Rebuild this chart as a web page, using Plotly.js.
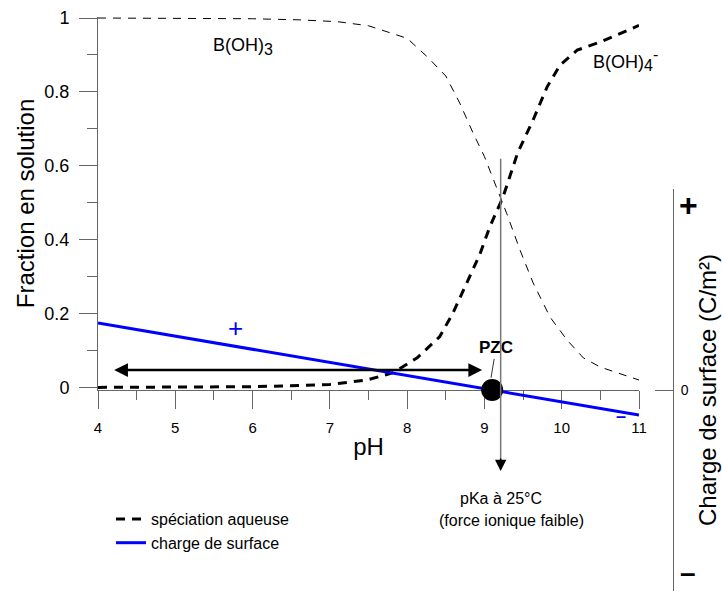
<!DOCTYPE html>
<html><head><meta charset="utf-8">
<script src="https://cdn.plot.ly/plotly-3.0.1.min.js"></script>
<style>html,body{margin:0;padding:0;background:#fff}#chart{width:722px;height:591px}</style>
</head><body><div id="chart"></div>
<script>
// B(OH)3 fraction (thin dashed)
const phAcid = [4, 5, 6, 6.6, 7.1, 7.5, 8.0, 8.26, 8.5, 8.68, 8.85, 9.0, 9.29, 9.46, 9.63, 9.85, 10.07, 10.28, 10.5, 11];
const fracAcid = [1.0, 1.0, 0.998, 0.995, 0.99, 0.979, 0.945, 0.895, 0.843, 0.77, 0.69, 0.625, 0.47, 0.372, 0.283, 0.19, 0.128, 0.08, 0.055, 0.02];
// B(OH)4- fraction (thick dashed)
const phBase = [4, 5, 6, 6.6, 7.0, 7.48, 7.82, 8.13, 8.42, 8.59, 8.77, 8.94, 9.07, 9.24, 9.37, 9.43, 9.63, 9.81, 9.98, 10.2, 10.5, 11];
const fracBase = [0.0, 0.0, 0.002, 0.005, 0.008, 0.02, 0.04, 0.08, 0.137, 0.2, 0.28, 0.36, 0.435, 0.515, 0.597, 0.635, 0.724, 0.813, 0.873, 0.913, 0.935, 0.98];
// surface charge (arbitrary units, right axis)
const phCharge = [4, 9.1, 11];
const charge = [0.333, 0, -0.124];
// point of zero charge
const pzcPH = [9.1];
const pzcCharge = [0];
// pKa
const pKa = 9.21;
// double arrow (range of positive charge)
const arrowFrom = 4.19, arrowTo = 8.97, arrowLevel = 0.047;

const FONT = 'Liberation Sans, Arial, sans-serif';
const AX = '#666666';

const traces = [
  {x: phAcid, y: fracAcid, mode: 'lines', line: {color: '#000', width: 1, dash: '8px,7px'},
   showlegend: false, name: 'B(OH)3', hoverinfo: 'skip'},
  {x: phBase, y: fracBase, mode: 'lines', line: {color: '#000', width: 3, dash: '9px,7px'},
   name: 'spéciation aqueuse'},
  {x: phCharge, y: charge, yaxis: 'y2', mode: 'lines', line: {color: '#0000ff', width: 3},
   name: 'charge de surface'},
  {x: pzcPH, y: pzcCharge, yaxis: 'y2', mode: 'markers', marker: {color: '#000', size: 22},
   showlegend: false, name: 'PZC', cliponaxis: false}
];

const W = 624, H = 574; // paper size in px (l=98, r=0, t=17, b=0)
const px = p => (p - 98) / W;
const py = p => (591 - p) / H;

const layout = {
  width: 722, height: 591,
  margin: {l: 98, r: 0, t: 17, b: 0},
  paper_bgcolor: '#fff', plot_bgcolor: 'rgba(0,0,0,0)',
  font: {family: FONT, color: '#000'},
  showlegend: true,
  legend: {x: px(111), y: py(502), xanchor: 'left', yanchor: 'top', font: {size: 16, family: FONT},
           bgcolor: 'rgba(0,0,0,0)', borderwidth: 0, tracegroupgap: 0},
  xaxis: {
    domain: [0, 541 / W], range: [4, 11], anchor: 'y',
    showline: true, linecolor: AX, linewidth: 1, showgrid: false, zeroline: false,
    ticks: 'outside', ticklen: 18, tickcolor: AX, tickwidth: 1,
    tickmode: 'linear', tick0: 4, dtick: 1, tickfont: {size: 15}, ticklabelstandoff: 6,
    minor: {tickmode: 'linear', tick0: 4, dtick: 0.5, ticks: 'outside', ticklen: 9, tickcolor: AX, tickwidth: 1},
    title: {text: 'pH', font: {size: 24}, standoff: 3}
  },
  yaxis: {
    domain: [201 / H, 1], range: [-0.007, 1.0027], anchor: 'x',
    showline: true, linecolor: AX, linewidth: 1, showgrid: false, zeroline: false,
    ticks: 'outside', ticklen: 18, tickcolor: AX, tickwidth: 1,
    tickmode: 'linear', tick0: 0, dtick: 0.2, tickfont: {size: 18}, ticklabelstandoff: 6,
    minor: {tickmode: 'linear', tick0: 0, dtick: 0.1, ticks: 'outside', ticklen: 10, tickcolor: AX, tickwidth: 1},
    title: {text: 'Fraction en solution', font: {size: 24}, standoff: 2}
  },
  yaxis2: {
    domain: [0, 402 / H], range: [-1, 1], anchor: 'free', position: px(673), side: 'right',
    showline: true, linecolor: AX, linewidth: 1, showgrid: false, zeroline: false,
    ticks: 'inside', ticklen: 18, tickcolor: AX, tickwidth: 1,
    tickmode: 'array', tickvals: [0], ticktext: ['0'], tickfont: {size: 14}, ticklabelstandoff: 4,
    minor: {tickmode: 'array', tickvals: [1], ticks: 'inside', ticklen: 8, tickcolor: AX, tickwidth: 1},
    title: {text: 'Charge de surface (C/m²)', font: {size: 24}, standoff: 11}
  },
  annotations: [
    {x: 5.88, y: 0.924, xref: 'x', yref: 'y', text: 'B(OH)<sub><span style="font-size:16px">3</span></sub>', showarrow: false, font: {size: 18}},
    {x: 10.83, y: 0.886, xref: 'x', yref: 'y', text: 'B(OH)<sub><span style="font-size:16px">4</span></sub><sup><span style="font-size:16px">-</span></sup>', showarrow: false, font: {size: 18}},
    {x: 5.785, y: 0.161, xref: 'x', yref: 'y', text: '+', showarrow: false, font: {size: 26, color: '#0000ff'}},
    {x: 10.77, y: -0.129, xref: 'x', yref: 'y2', text: '<b>–</b>', showarrow: false, font: {size: 18, color: '#0000ff'}},
    {x: px(688), y: py(205), xref: 'paper', yref: 'paper', xanchor: 'center', yanchor: 'middle', text: '<b>+</b>', showarrow: false, font: {size: 32}},
    {x: px(688), y: py(590), xref: 'paper', yref: 'paper', xanchor: 'center', yanchor: 'bottom', text: '<b>–</b>', showarrow: false, font: {size: 28}},
    // double arrow
    {x: arrowTo, y: arrowLevel, ax: arrowFrom, ay: arrowLevel, xref: 'x', yref: 'y', axref: 'x', ayref: 'y',
     text: '', showarrow: true, arrowside: 'end+start', arrowhead: 2, arrowsize: 1.1, arrowwidth: 2.5,
     arrowcolor: '#000', standoff: 0, startstandoff: 0},
    // PZC label
    {x: 9.085, y: 0.026, xref: 'x', yref: 'y', ax: 5, ay: -30, text: '<b>PZC</b>', showarrow: true,
     arrowhead: 0, arrowwidth: 0.8, arrowcolor: '#000', font: {size: 17}, standoff: 0},
    // pKa vertical line (gray) and arrow head (black)
    {x: pKa, y: -0.37, xref: 'x', yref: 'y2', ax: 0, ay: -(471 - 157) + 7, axref: 'pixel', ayref: 'pixel',
     text: '', showarrow: true, arrowhead: 0, arrowwidth: 1.5, arrowcolor: '#777777', standoff: 0},
    {x: pKa, y: -0.403, xref: 'x', yref: 'y2', ax: 0, ay: -14, axref: 'pixel', ayref: 'pixel',
     text: '', showarrow: true, arrowhead: 2, arrowsize: 1.5, arrowwidth: 1.5, arrowcolor: '#000', standoff: 0},
    {x: px(501), y: py(498), xref: 'paper', yref: 'paper', xanchor: 'center', yanchor: 'middle', text: 'pKa à 25°C', showarrow: false, font: {size: 16}},
    {x: px(511), y: py(520), xref: 'paper', yref: 'paper', xanchor: 'center', yanchor: 'middle', text: '(force ionique faible)', showarrow: false, font: {size: 16}}
  ]
};

Plotly.newPlot('chart', traces, layout, {displayModeBar: false, staticPlot: true});
</script>
</body></html>
